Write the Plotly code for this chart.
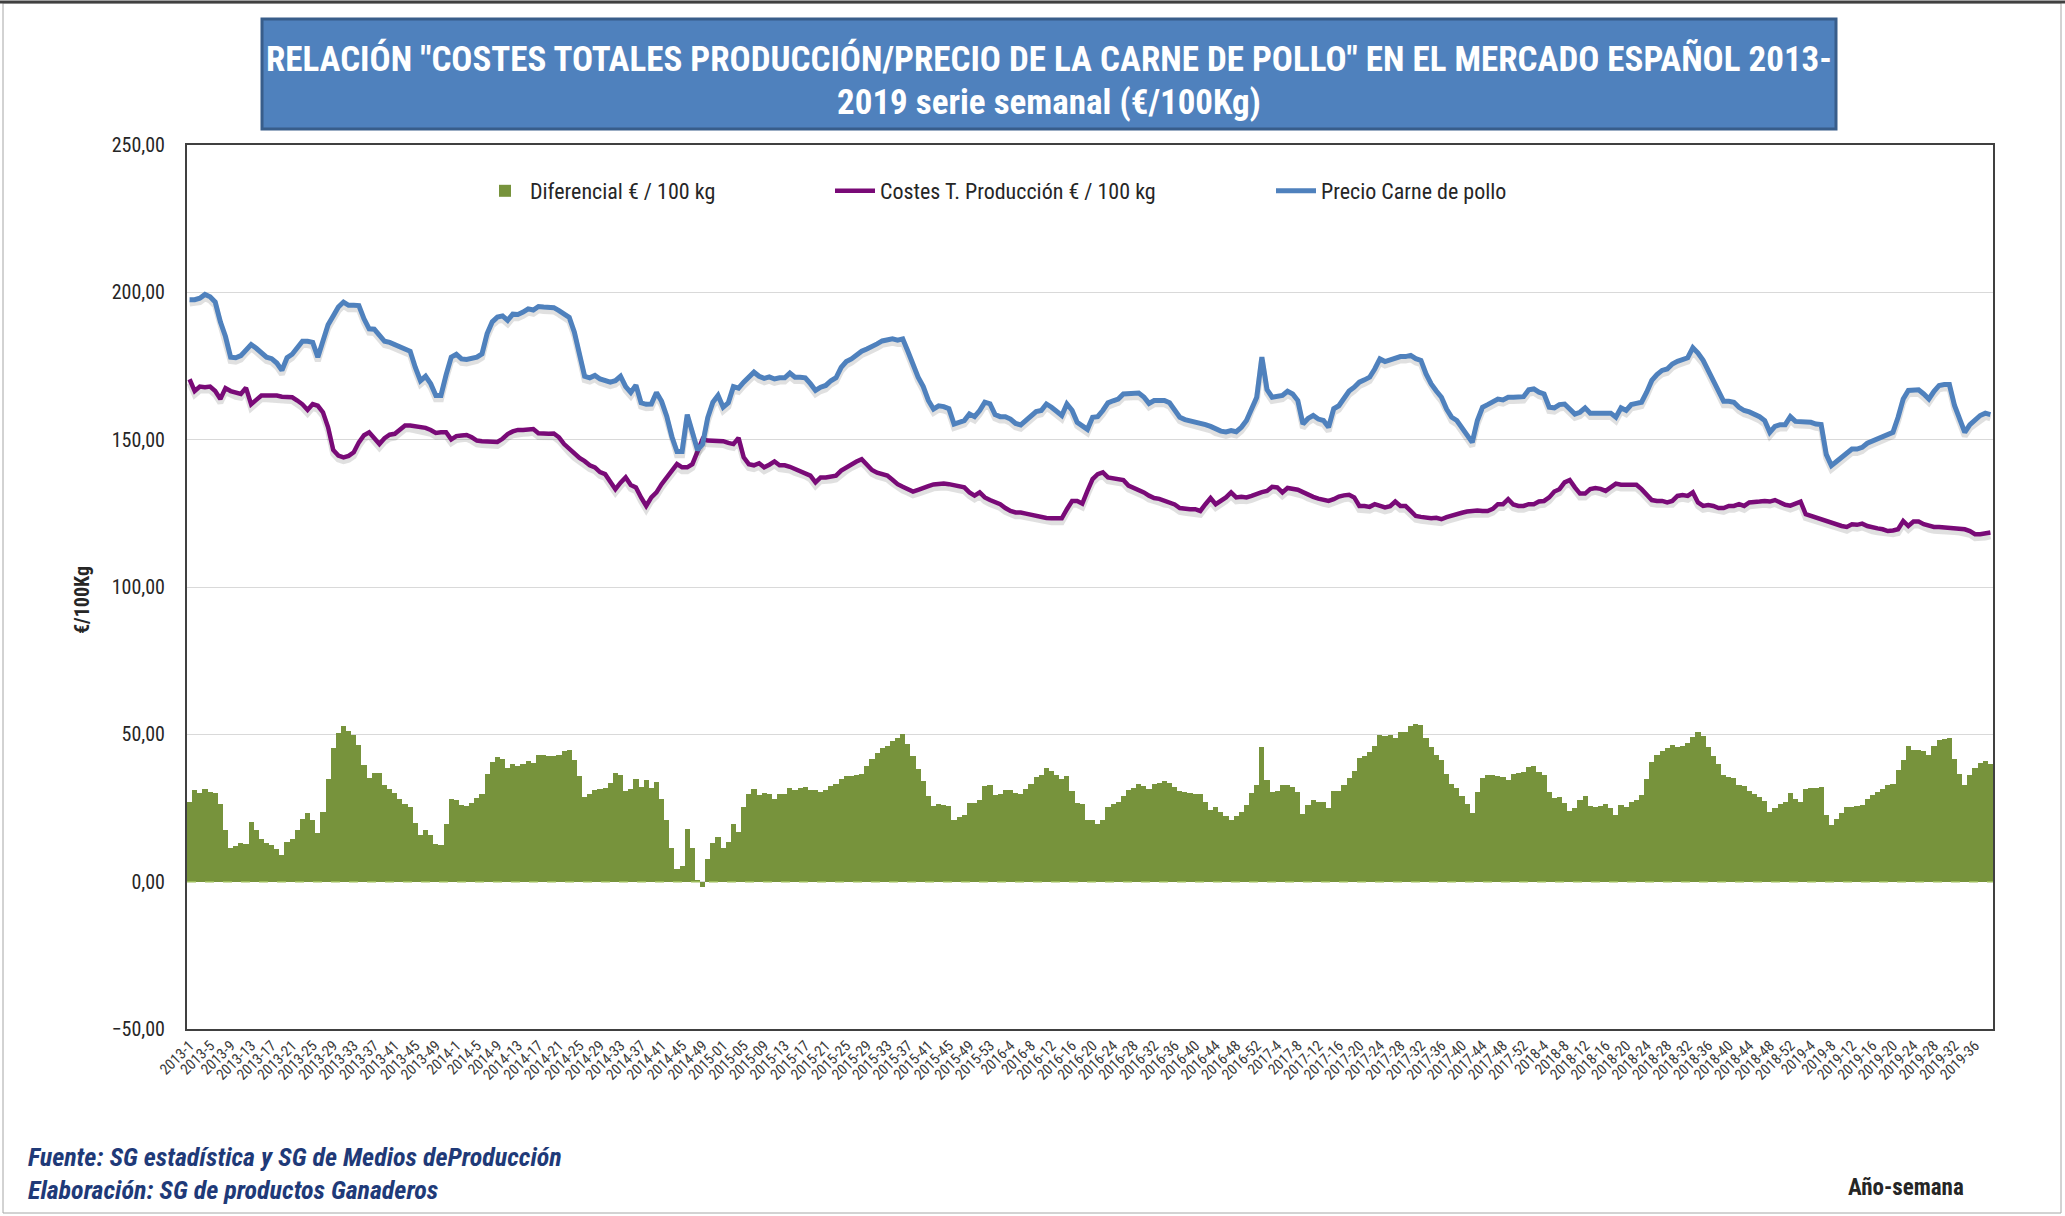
import plotly.graph_objects as go

# ---------------- figure geometry (pixels) ----------------
W, H = 2065, 1216
PL, PR, PT, PB = 187, 1993, 145, 1029  # plot area edges


def px_x(x):
    return (x - PL) / (PR - PL)


def px_y(y):
    return (PB - y) / (PB - PT)


# ---------------- data ----------------
YEAR_WEEKS = [(2013, 52), (2014, 52), (2015, 53), (2016, 52), (2017, 52), (2018, 52), (2019, 39)]
WEEK_LABELS = []
for yr, n in YEAR_WEEKS:
    for wk in range(1, n + 1):
        WEEK_LABELS.append(f"{yr}-{wk:02d}" if yr == 2015 else f"{yr}-{wk}")

PRICE_2013 = [197.5, 197.5, 198.0, 199.3, 198.5, 196.7, 190.0, 185.0, 178.0, 177.8,
              178.5, 180.5, 182.3, 181.0, 179.5, 178.0, 177.5, 176.0, 173.5, 177.8,
              179.0, 181.0, 183.4, 183.4, 183.0, 178.0, 183.0, 189.0, 192.0, 195.0,
              196.7, 195.6, 195.6, 195.5, 191.0, 187.6, 187.5, 185.5, 183.4, 183.0,
              182.2, 181.5, 181.0, 180.0, 174.5, 170.0, 171.5, 169.0, 165.0, 165.0,
              172.0, 178.0]
PRICE_2014 = [179.0, 177.4, 177.2, 177.5, 178.0, 179.1, 186.0, 190.0, 191.6, 192.0,
              190.5, 192.6, 192.5, 193.3, 194.4, 194.0, 195.2, 195.0, 194.8, 194.8,
              193.8, 192.7, 191.5, 186.5, 179.5, 171.5, 171.0, 171.8, 170.6, 170.0,
              169.5, 170.0, 171.5, 168.0, 166.0, 168.5, 162.5, 162.0, 162.1, 166.0,
              163.0, 158.0, 151.0, 146.0, 146.0, 158.5, 153.0, 146.5, 148.5, 157.5,
              162.7, 165.0]
PRICE_2015 = [161.0, 162.5, 168.0, 167.5, 169.5, 171.5, 172.9, 171.5, 170.8, 171.3,
              170.6, 171.0, 171.0, 172.6, 171.2, 171.2, 171.0, 169.0, 166.7, 167.8,
              168.4, 170.0, 171.0, 174.5, 176.5, 177.4, 178.8, 180.0, 180.8, 181.5,
              182.5, 183.5, 184.0, 184.2, 183.8, 184.2, 180.0, 175.0, 171.2, 168.0,
              163.3, 160.4, 161.5, 161.2, 160.5, 155.3, 155.8, 156.5, 158.7, 157.8,
              159.9, 162.7, 162.2]
PRICE_2016 = [158.5, 157.8, 157.8, 157.0, 155.5, 155.0, 156.5, 157.8, 159.5, 159.9,
              162.1, 161.0, 159.5, 158.2, 162.1, 160.0, 155.9, 154.5, 153.5, 157.6,
              157.8, 159.9, 162.5, 163.2, 163.8, 165.5, 165.6, 165.5, 165.8, 164.5,
              162.3, 163.3, 163.3, 163.3, 162.5, 160.0, 157.6, 156.8, 156.4, 156.2,
              155.6, 155.1, 154.5, 153.5, 152.9, 152.6, 153.1, 152.7, 154.2, 156.5,
              161.0, 164.4]
PRICE_2017 = [178.0, 167.0, 164.4, 164.6, 165.0, 166.4, 165.5, 163.3, 155.3, 157.2,
              158.2, 157.0, 156.5, 154.2, 160.5, 161.5, 164.0, 166.5, 167.8, 169.5,
              170.3, 171.2, 174.0, 177.4, 176.5, 177.1, 177.6, 178.2, 178.2, 178.6,
              177.5, 176.9, 172.3, 168.9, 166.5, 164.4, 160.4, 157.6, 156.5, 154.2,
              151.9, 149.1, 156.5, 161.0, 161.9, 162.7, 163.8, 163.5, 164.4, 164.4,
              164.4, 164.6]
PRICE_2018 = [166.9, 167.2, 166.1, 165.5, 161.0, 160.8, 161.9, 162.1, 160.4, 158.7,
              159.3, 160.8, 159.0, 159.0, 159.0, 159.0, 159.0, 157.6, 160.8, 159.9,
              161.9, 162.3, 162.7, 166.1, 170.1, 172.1, 173.5, 174.0, 175.7, 176.6,
              177.1, 177.8, 181.2, 179.4, 176.9, 173.5, 170.1, 166.7, 163.0, 163.0,
              162.7, 161.0, 159.9, 159.4, 158.7, 157.8, 156.5, 152.5, 154.5, 155.1,
              155.1, 157.8]
PRICE_2019 = [156.2, 156.2, 156.2, 155.9, 155.3, 155.1, 145.0, 141.2, 142.6, 144.0,
              145.7, 146.8, 146.8, 147.4, 148.8, 149.5, 150.2, 151.0, 151.7, 152.5,
              157.6, 163.8, 166.7, 166.9, 166.9, 165.5, 163.8, 166.4, 168.4, 168.7,
              168.7, 161.6, 156.5, 152.5, 155.1, 156.5, 158.2, 159.0, 158.5]

COST_2013 = [170.5, 166.5, 168.0, 167.8, 168.0, 166.5, 163.8, 167.5, 166.5, 165.8,
             165.5, 167.6, 162.0, 163.5, 165.0, 165.0, 165.0, 165.0, 164.6, 164.5,
             164.4, 163.3, 162.0, 160.1, 162.1, 161.5, 159.3, 154.2, 146.5, 144.6,
             144.0, 144.5, 145.7, 149.1, 151.5, 152.5, 150.5, 148.5, 150.5, 151.7,
             152.0, 153.5, 154.8, 154.8, 154.5, 154.3, 154.0, 153.3, 152.3, 152.5,
             152.5, 150.1]
COST_2014 = [151.2, 151.4, 151.6, 150.8, 149.7, 149.5, 149.4, 149.4, 149.2, 150.3,
             151.9, 152.8, 153.3, 153.3, 153.4, 153.6, 152.2, 152.0, 152.0, 152.1,
             150.8, 148.5, 146.8, 145.1, 143.8, 142.7, 141.3, 140.6, 139.0, 138.3,
             136.0, 133.2, 135.4, 137.2, 134.6, 133.8, 130.4, 127.5, 130.4, 132.1,
             134.9, 137.2, 139.5, 141.7, 140.6, 140.6, 141.7, 146.0, 150.2, 149.7,
             149.7, 149.8]
COST_2015 = [149.5, 148.9, 148.5, 150.6, 144.0, 141.7, 141.3, 142.0, 140.6, 141.5,
             142.6, 141.3, 141.3, 140.8, 140.0, 139.5, 138.8, 137.8, 135.5, 137.2,
             137.2, 137.4, 137.8, 139.5, 140.6, 141.7, 142.6, 143.4, 141.7, 139.7,
             138.8, 138.2, 137.8, 136.4, 134.9, 134.0, 133.3, 132.4, 133.0, 133.8,
             134.2, 134.8, 135.1, 135.1, 134.9, 134.4, 134.0, 133.8, 132.1, 131.0,
             132.1, 130.4, 129.5]
COST_2016 = [129.0, 128.1, 126.8, 125.8, 125.3, 125.3, 124.9, 124.5, 124.0, 123.6,
             123.4, 123.3, 123.3, 123.3, 126.4, 129.2, 129.2, 128.3, 132.6, 136.6,
             138.3, 138.9, 137.2, 136.8, 136.6, 136.3, 134.4, 133.7, 132.8, 132.1,
             131.0, 130.2, 129.9, 129.3, 129.0, 128.0, 126.8, 126.5, 126.4, 126.4,
             125.8, 128.1, 130.2, 128.1, 129.2, 130.4, 132.1, 130.4, 130.6, 130.4,
             130.9, 131.7]
COST_2017 = [132.2, 132.6, 134.0, 133.8, 132.1, 133.6, 133.3, 133.0, 132.2, 131.3,
             130.6, 130.0, 129.5, 129.2, 129.8, 130.7, 131.1, 131.3, 130.4, 127.5,
             127.5, 127.2, 128.1, 127.5, 127.0, 127.4, 129.0, 127.5, 127.5, 125.8,
             124.1, 123.8, 123.6, 123.3, 123.5, 123.0, 123.7, 124.3, 124.7, 125.2,
             125.6, 125.8, 126.0, 125.8, 125.8, 126.5, 128.1, 128.1, 129.8, 128.0,
             127.5, 127.5]
COST_2018 = [128.1, 128.1, 129.0, 129.2, 130.4, 132.4, 133.2, 135.5, 136.3, 133.8,
             131.7, 131.7, 133.2, 133.6, 133.3, 132.6, 134.0, 135.1, 134.7, 134.7,
             134.7, 134.7, 133.2, 131.3, 129.5, 129.2, 129.2, 128.7, 129.2, 130.9,
             131.2, 130.9, 132.1, 128.7, 127.5, 127.8, 127.5, 126.8, 126.8, 127.5,
             127.5, 128.1, 127.5, 128.7, 129.0, 129.0, 129.2, 129.0, 129.5, 128.7,
             127.9, 127.6]
COST_2019 = [128.2, 129.0, 124.7, 124.1, 123.6, 123.0, 122.4, 121.9, 121.3, 120.7,
             120.4, 121.3, 121.1, 121.5, 120.7, 120.2, 119.9, 119.6, 119.0, 119.2,
             119.6, 122.4, 120.7, 122.2, 122.2, 121.3, 120.8, 120.4, 120.4, 120.2,
             120.0, 120.0, 119.8, 119.6, 119.0, 117.9, 117.9, 118.1, 118.5]

PRICE = PRICE_2013 + PRICE_2014 + PRICE_2015 + PRICE_2016 + PRICE_2017 + PRICE_2018 + PRICE_2019
COST = COST_2013 + COST_2014 + COST_2015 + COST_2016 + COST_2017 + COST_2018 + COST_2019
DIFF = [round(p - c, 2) for p, c in zip(PRICE, COST)]

SERIES_NAMES = ["Diferencial € / 100 kg", "Costes T. Producción € / 100 kg", "Precio Carne de pollo"]
TITLE_LINE1 = 'RELACIÓN "COSTES TOTALES PRODUCCIÓN/PRECIO DE LA CARNE DE POLLO" EN EL MERCADO ESPAÑOL 2013-'
TITLE_LINE2 = "2019 serie semanal (€/100Kg)"

X = list(range(len(WEEK_LABELS)))

# ---------------- styles ----------------
FONT = "Liberation Sans Narrow, Arial Narrow, Roboto Condensed, Liberation Sans, sans-serif"
GREEN = "#77933C"
PURPLE = "#790A77"
BLUE = "#4F81BD"

fig = go.Figure()

fig.add_trace(go.Bar(x=X, y=DIFF, name=SERIES_NAMES[0], marker=dict(color=GREEN, line=dict(width=0)),
                     legend="legend", hoverinfo="skip"))
# soft shadows under the lines (derived from the same data)
fig.add_trace(go.Scatter(x=X, y=[v - 1.3 for v in COST], mode="lines", showlegend=False, hoverinfo="skip",
                         line=dict(color="rgba(60,60,60,0.16)", width=6)))
fig.add_trace(go.Scatter(x=X, y=COST, mode="lines", name=SERIES_NAMES[1], legend="legend2",
                         line=dict(color=PURPLE, width=4.5)))
fig.add_trace(go.Scatter(x=X, y=[v - 1.3 for v in PRICE], mode="lines", showlegend=False, hoverinfo="skip",
                         line=dict(color="rgba(60,60,60,0.16)", width=6)))
fig.add_trace(go.Scatter(x=X, y=PRICE, mode="lines", name=SERIES_NAMES[2], legend="legend3",
                         line=dict(color=BLUE, width=5)))

legend_common = dict(orientation="h", yanchor="middle", xanchor="left", bgcolor="rgba(0,0,0,0)",
                     font=dict(family=FONT, size=22, color="#262626"), itemwidth=40)

fig.update_layout(
    width=W, height=H,
    margin=dict(l=PL, r=W - PR, t=PT, b=H - PB, autoexpand=False),
    paper_bgcolor="white", plot_bgcolor="white",
    separators=",.",
    bargap=0,
    font=dict(family=FONT, color="#262626"),
    legend=dict(x=px_x(480), y=px_y(191), **legend_common),
    legend2=dict(x=px_x(830), y=px_y(191), **legend_common),
    legend3=dict(x=px_x(1271), y=px_y(191), **legend_common),
    xaxis=dict(range=[-0.5, len(X) - 0.5], tickmode="array", tickvals=X[::4], ticktext=WEEK_LABELS[::4],
               tickangle=-45, tickfont=dict(family=FONT, size=15, color="#3A3A3A"),
               showgrid=False, zeroline=False, showline=True, mirror=True, linecolor="#404040", linewidth=2,
               ticks="", automargin=False),
    yaxis=dict(range=[-50, 250], dtick=50, tick0=0, tickformat=".2f",
               tickfont=dict(family=FONT, size=20, color="#262626"),
               gridcolor="#D9D9D9", gridwidth=1, zeroline=False,
               showline=True, mirror=True, linecolor="#404040", linewidth=2, ticks="",
               ticklabelstandoff=16, automargin=False),
)

shapes = [
    # outer frame
    dict(type="rect", xref="paper", yref="paper", x0=px_x(3), x1=px_x(2061), y0=px_y(1213), y1=px_y(3),
         line=dict(color="#A6A6A6", width=1), layer="below"),
    dict(type="line", xref="paper", yref="paper", x0=px_x(0), x1=px_x(2065), y0=px_y(2), y1=px_y(2),
         line=dict(color="#404040", width=3)),
    # title box
    dict(type="rect", xref="paper", yref="paper", x0=px_x(262), x1=px_x(1836), y0=px_y(129), y1=px_y(19),
         fillcolor="#4F81BD", line=dict(color="#385D8A", width=3)),
    # dashed zero line
    dict(type="line", xref="paper", yref="y", x0=0, x1=1, y0=0, y1=0,
         line=dict(color="#9BBB59", width=1.5, dash="dash"), layer="above"),
]

annotations = [
    dict(text=f"<b>{TITLE_LINE1}</b>", xref="paper", yref="paper", x=px_x(1049), y=px_y(59),
         xanchor="center", yanchor="middle", showarrow=False,
         font=dict(family=FONT, size=35, color="white")),
    dict(text=f"<b>{TITLE_LINE2}</b>", xref="paper", yref="paper", x=px_x(1049), y=px_y(103),
         xanchor="center", yanchor="middle", showarrow=False,
         font=dict(family=FONT, size=35, color="white")),
    dict(text="<b>€/100Kg</b>", xref="paper", yref="paper", x=px_x(82), y=px_y(600), textangle=-90,
         xanchor="center", yanchor="middle", showarrow=False, font=dict(family=FONT, size=20, color="#262626")),
    dict(text="<b><i>Fuente: SG estadística y SG de Medios deProducción</i></b>", xref="paper", yref="paper",
         x=px_x(26), y=px_y(1157), xanchor="left", yanchor="middle", showarrow=False,
         font=dict(family=FONT, size=26, color="#1F3A78")),
    dict(text="<b><i>Elaboración: SG de productos Ganaderos</i></b>", xref="paper", yref="paper",
         x=px_x(26), y=px_y(1190), xanchor="left", yanchor="middle", showarrow=False,
         font=dict(family=FONT, size=26, color="#1F3A78")),
    dict(text="<b>Año-semana</b>", xref="paper", yref="paper", x=px_x(1966), y=px_y(1187),
         xanchor="right", yanchor="middle", showarrow=False, font=dict(family=FONT, size=23, color="#262626")),
]

fig.update_layout(shapes=shapes, annotations=annotations)

fig.write_html("out.html", config={"displayModeBar": False},
               post_script="document.body.style.margin='0px';")
